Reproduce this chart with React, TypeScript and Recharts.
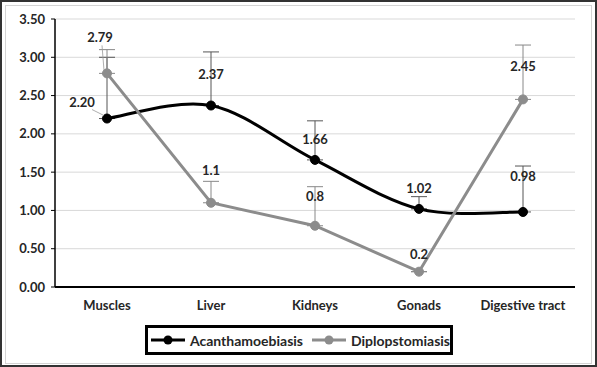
import React from "react";
import {
  LineChart,
  Line,
  XAxis,
  YAxis,
  CartesianGrid,
  ErrorBar,
  LabelList,
  Legend,
} from "recharts";

const categories = ["Muscles", "Liver", "Kidneys", "Gonads", "Digestive tract"];
const acanthValues = [2.2, 2.37, 1.66, 1.02, 0.98];
const acanthLabels = ["2.20", "2.37", "1.66", "1.02", "0.98"];
const acanthErrors = [0.8, 0.7, 0.51, 0.16, 0.6];
const diploValues = [2.79, 1.1, 0.8, 0.2, 2.45];
const diploLabels = ["2.79", "1.1", "0.8", "0.2", "2.45"];
const diploErrors = [0.31, 0.28, 0.51, 0, 0.71];
const yTicks = [0, 0.5, 1, 1.5, 2, 2.5, 3, 3.5];
const boundaryTicks = [1, 2, 3, 4, 5];

const data = categories.map((name, i) => ({
  name,
  acanth: acanthValues[i],
  acanthErr: [0, acanthErrors[i]],
  diplo: diploValues[i],
  diploErr: [0, diploErrors[i]],
}));

// label placement (layout only)
const acanthLabelOffset = [
  [-25, -17, true],
  [0, -32, false],
  [0, -21, false],
  [0, -21, false],
  [0, -36, false],
];
const diploLabelOffset = [
  [-7, -36, true],
  [0, -33, false],
  [0, -30, false],
  [0, -18, false],
  [0, -33, false],
];

const FONT = "Lato, 'Open Sans', sans-serif";
const TEXT = "#262626";

// Excel-like smoothing (Catmull-Rom converted to Bezier)
function excelSmooth(context: any) {
  let pts: number[][] = [];
  return {
    areaStart() {},
    areaEnd() {},
    lineStart() {
      pts = [];
    },
    point(x: number, y: number) {
      pts.push([+x, +y]);
    },
    lineEnd() {
      if (!pts.length) return;
      context.moveTo(pts[0][0], pts[0][1]);
      for (let i = 0; i < pts.length - 1; i++) {
        const p0 = pts[i - 1] || pts[i];
        const p1 = pts[i];
        const p2 = pts[i + 1];
        const p3 = pts[i + 2] || p2;
        const c1x = p1[0] + (p2[0] - p0[0]) / 6;
        const c1y = p1[1] + (p2[1] - p0[1]) / 6;
        const c2x = p2[0] - (p3[0] - p1[0]) / 6;
        const c2y = p2[1] - (p3[1] - p1[1]) / 6;
        context.bezierCurveTo(c1x, c1y, c2x, c2y, p2[0], p2[1]);
      }
    },
  };
}

const makeLabel = (labels: string[], offsets: any[]) => (props: any) => {
  const { x, y, index } = props;
  const [dx, dy, leader] = offsets[index];
  const lx = x + dx;
  const ly = y + dy;
  return (
    <g>
      {leader ? (
        <line
          x1={lx + (dx < -10 ? 10 : 2)}
          y1={ly + 8}
          x2={x - 3}
          y2={y - 3}
          stroke="#999"
          strokeWidth={0.8}
        />
      ) : null}
      <text
        x={lx}
        y={ly}
        textAnchor="middle"
        dominantBaseline="central"
        fontFamily={FONT}
        fontWeight={700}
        fontSize={13}
        fill={TEXT}
      >
        {labels[index]}
      </text>
    </g>
  );
};

const XTick = (props: any) => {
  const { x, y, payload } = props;
  return (
    <text
      x={x}
      y={y + 10}
      textAnchor="middle"
      dominantBaseline="central"
      fontFamily={FONT}
      fontWeight={700}
      fontSize={13}
      fill={TEXT}
    >
      {payload.value}
    </text>
  );
};

const LegendMarker = ({ color }: { color: string }) => (
  <svg width={34} height={12} style={{ display: "block" }}>
    <line x1={0} y1={6} x2={34} y2={6} stroke={color} strokeWidth={3} />
    <circle cx={17} cy={6} r={4.5} fill={color} />
  </svg>
);

const LegendContent = () => (
  <div
    style={{
      boxSizing: "border-box",
      width: 308,
      height: 30,
      border: "3px solid #000",
      display: "flex",
      alignItems: "center",
      paddingLeft: 3,
      fontFamily: FONT,
      fontWeight: 700,
      fontSize: 14,
      color: TEXT,
    }}
  >
    <LegendMarker color="#000" />
    <span style={{ marginLeft: 5, marginRight: 9 }}>Acanthamoebiasis</span>
    <LegendMarker color="#8c8c8c" />
    <span style={{ marginLeft: 5 }}>Diplopstomiasis</span>
  </div>
);

export default function App() {
  return (
    <div
      style={{
        position: "absolute",
        left: 0,
        top: 0,
        width: 597,
        height: 367,
        background: "#fff",
        boxSizing: "border-box",
        border: "2px solid #333",
      }}
    >
      <div
        style={{
          position: "absolute",
          left: 3,
          top: 3,
          right: 3,
          bottom: 1,
          border: "1px solid #d4d4d4",
        }}
      />
      <div style={{ position: "absolute", left: -2, top: -2 }}>
        <LineChart
          width={597}
          height={367}
          data={data}
          margin={{ top: 19, right: 22, bottom: 12, left: 0 }}
        >
          <CartesianGrid vertical={false} stroke="#d9d9d9" strokeWidth={1} />
          <XAxis
            xAxisId="bd"
            type="number"
            domain={[0, 5]}
            ticks={boundaryTicks}
            allowDataOverflow
            tick={false}
            axisLine={false}
            tickLine={{ stroke: "#000", strokeWidth: 1.5 }}
            tickSize={5}
            height={0}
          />
          <XAxis
            dataKey="name"
            scale="band"
            height={30}
            tickLine={false}
            axisLine={{ stroke: "#000", strokeWidth: 2 }}
            tick={<XTick />}
            interval={0}
          />
          <YAxis
            width={55}
            domain={[0, 3.5]}
            ticks={yTicks}
            tickFormatter={(v: number) => v.toFixed(2)}
            axisLine={{ stroke: "#000", strokeWidth: 1.5 }}
            tickLine={{ stroke: "#000" }}
            tickSize={4}
            tickMargin={6}
            tick={{ fontFamily: FONT, fontWeight: 700, fontSize: 13, fill: TEXT }}
          />
          <Legend
            verticalAlign="bottom"
            height={38}
            wrapperStyle={{ left: 145, top: 325, bottom: "auto", width: 308 }}
            content={<LegendContent />}
          />
          <Line
            dataKey="acanth"
            type={excelSmooth as any}
            stroke="#000"
            strokeWidth={3}
            dot={{ r: 4.5, fill: "#000", stroke: "#000", strokeWidth: 1 }}
            isAnimationActive={false}
          >
            <ErrorBar dataKey="acanthErr" direction="y" width={8} stroke="#555" strokeWidth={1} />
            <LabelList dataKey="acanth" content={makeLabel(acanthLabels, acanthLabelOffset)} />
          </Line>
          <Line
            dataKey="diplo"
            type="linear"
            stroke="#8c8c8c"
            strokeWidth={3}
            dot={{ r: 4.5, fill: "#8c8c8c", stroke: "#8c8c8c", strokeWidth: 1 }}
            isAnimationActive={false}
          >
            <ErrorBar dataKey="diploErr" direction="y" width={8} stroke="#888" strokeWidth={1} />
            <LabelList dataKey="diplo" content={makeLabel(diploLabels, diploLabelOffset)} />
          </Line>
        </LineChart>
      </div>
    </div>
  );
}
